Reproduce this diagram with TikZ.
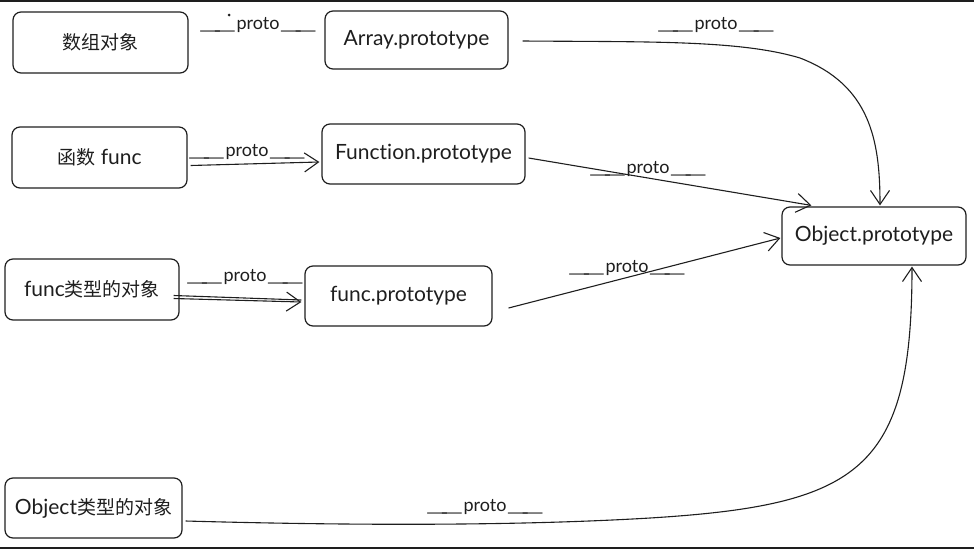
\documentclass[tikz,border=0pt]{standalone}
\usepackage{fontspec}
\usepackage{graphicx}
\setmainfont{Lato}[Ligatures=NoCommon]
\newfontfamily\cjk{Noto Sans CJK SC}
\newcommand\zh[1]{{\cjk\fontsize{19}{22}\selectfont #1}}
\newcommand\us{\scalebox{2.8}[1]{\_\kern-3pt\_}}
\usetikzlibrary{arrows.meta,calc}
\definecolor{ink}{HTML}{1E1E1E}
\tikzset{
  box/.style={draw=ink, line width=1.2pt, rounded corners=8pt, rectangle, inner sep=0pt, font=\fontsize{21}{24}\selectfont, text=ink},
  lab/.style={font=\fontsize{18}{20}\selectfont, text=ink, inner sep=0pt},
  link/.style={draw=ink, line width=1.1pt, -{Straight Barb[length=14pt,width=19pt,line width=1.1pt]}}
}
\begin{document}
\begin{tikzpicture}[x=1pt,y=-1pt]
\useasboundingbox (0,0) rectangle (974,549);
\fill[ink] (0,0) rectangle (974,1.5);
\fill[ink] (0,546.5) rectangle (974,549);

% boxes
\node[box, minimum width=175pt, minimum height=61pt] (a) at (100.5,42.5) {\zh{数组对象}};
\node[box, minimum width=183pt, minimum height=58pt] (ap) at (416.5,40) {Array.prototype};
\node[box, minimum width=175pt, minimum height=61pt] (f) at (99.5,157.5) {\zh{函数} func};
\node[box, minimum width=203pt, minimum height=60pt] (fp) at (423.5,154) {Function.prototype};
\node[box, minimum width=174pt, minimum height=61pt] (fo) at (92,289.5) {func\zh{类型的对象}};
\node[box, minimum width=187pt, minimum height=60pt] (fpp) at (398.5,296) {func.prototype};
\node[box, minimum width=184pt, minimum height=58pt] (op) at (874,236) {Object.prototype};
\node[box, minimum width=177pt, minimum height=60pt] (oo) at (93.5,508) {Object\zh{类型的对象}};

% connectors
\draw[link] ($(ap.east)+(14,1)$) .. controls (650,42) and (740,40) .. (800,58)
  .. controls (870,85) and (880,140) .. ($(op.north)+(6,-1)$);
\draw[link] ($(f.east)+(3,8)$) -- ($(fp.west)+(-2,8)$);
\draw[link] ($(fp.east)+(3,4)$) -- ($(op.north west)+(30,-1)$);
\draw[ink, line width=1.1pt] ($(fo.east)+(-6,6)$) -- ($(fpp.west)+(-3,4)$);
\draw[link] ($(fo.east)+(-6,9)$) -- ($(fpp.west)+(-3,6)$);
\draw[link] ($(fpp.east)+(16,12)$) -- ($(op.west)+(-1,2)$);
\draw[link] ($(oo.east)+(3,13)$) .. controls (400,527) and (550,524) .. (650,518)
  .. controls (860,505) and (912,470) .. ($(op.south)+(38,1)$);

% labels
\node[lab] (l1) at (258,25) {\us proto\us};
\fill[ink] (229,15) circle (1.5pt);
\node[lab] (l2) at (716,25) {\us proto\us};
\node[lab] (l3) at (247,152) {\us proto\us};
\node[lab] (l4) at (648,169) {\us proto\us};
\node[lab] (l5) at (245,277) {\us proto\us};
\node[lab] (l6) at (627,268) {\us proto\us};
\node[lab] (l7) at (485,507) {\us proto\us};
\end{tikzpicture}
\end{document}
